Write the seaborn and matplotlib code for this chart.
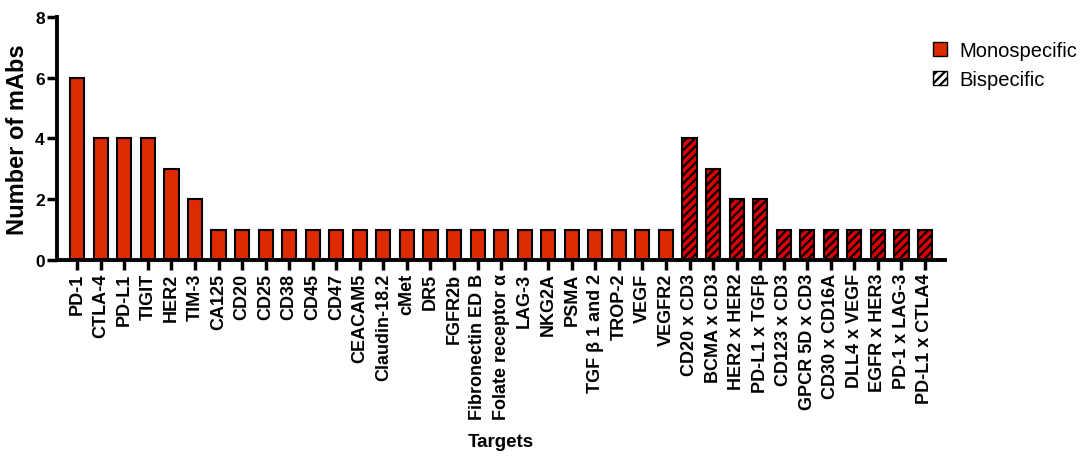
import matplotlib.pyplot as plt
import matplotlib.patches as mpatches
import seaborn as sns
import pandas as pd

mono_targets = ["PD-1", "CTLA-4", "PD-L1", "TIGIT", "HER2", "TIM-3", "CA125", "CD20",
                "CD25", "CD38", "CD45", "CD47", "CEACAM5", "Claudin-18.2", "cMet", "DR5",
                "FGFR2b", "Fibronectin ED B", "Folate receptor α", "LAG-3", "NKG2A", "PSMA",
                "TGF β 1 and 2", "TROP-2", "VEGF", "VEGFR2"]
mono_counts = [6, 4, 4, 4, 3, 2, 1, 1, 1, 1, 1, 1, 1, 1, 1, 1, 1, 1, 1, 1, 1, 1, 1, 1, 1, 1]
bi_targets = ["CD20 x CD3", "BCMA x CD3", "HER2 x HER2", "PD-L1 x TGFβ", "CD123 x CD3",
              "GPCR 5D x CD3", "CD30 x CD16A", "DLL4 x VEGF", "EGFR x HER3", "PD-1 x LAG-3",
              "PD-L1 x CTLA4"]
bi_counts = [4, 3, 2, 2, 1, 1, 1, 1, 1, 1, 1]

df = pd.DataFrame({
    "target": mono_targets + bi_targets,
    "count": mono_counts + bi_counts,
    "kind": ["Monospecific"] * len(mono_targets) + ["Bispecific"] * len(bi_targets),
})

sns.set_style("ticks")
plt.rcParams['font.family'] = ['Liberation Sans', 'DejaVu Sans']
plt.rcParams['hatch.linewidth'] = 1.6
plt.rcParams['text.color'] = 'black'
plt.rcParams['axes.labelcolor'] = 'black'
plt.rcParams['xtick.color'] = 'black'
plt.rcParams['ytick.color'] = 'black'
plt.rcParams['axes.edgecolor'] = 'black'

mono_color = "#DD2A00"
bi_color = "#D80000"

fig = plt.figure(figsize=(10.8, 4.64), dpi=100)
ax = fig.add_axes([0.053, 0.4375, 0.822, 0.524])

sns.barplot(data=df, x="target", y="count", hue="kind", dodge=False,
            palette={"Monospecific": mono_color, "Bispecific": bi_color},
            width=0.6, edgecolor="black", linewidth=1.5, saturation=1,
            legend=False, ax=ax)

# hatch the bispecific bars
kinds = df["kind"].tolist()
for bar in ax.patches:
    i = int(round(bar.get_x() + bar.get_width() / 2))
    if 0 <= i < len(kinds) and kinds[i] == "Bispecific" and bar.get_height() > 0:
        bar.set_hatch("////")

ax.set_xlim(-0.85, len(df) - 1 + 0.85)
ax.set_ylim(0, 8)
ax.set_yticks([0, 2, 4, 6, 8])
ax.set_ylabel("Number of mAbs", fontsize=17, fontweight="bold", labelpad=4)
ax.set_xlabel("Targets", fontsize=13.5, fontweight="bold", labelpad=10)
ax.tick_params(axis="x", labelrotation=90, labelsize=13, length=7, width=2.5, pad=2)
ax.tick_params(axis="y", labelsize=12.5, length=7, width=2.5, pad=2)
for lbl in ax.get_xticklabels() + ax.get_yticklabels():
    lbl.set_fontweight("bold")
sns.despine(ax=ax)
for s in ["left", "bottom"]:
    ax.spines[s].set_linewidth(2.8)

handles = [
    mpatches.Patch(facecolor=mono_color, edgecolor="black", linewidth=1, label="Monospecific"),
    mpatches.Patch(facecolor="white", edgecolor="black", linewidth=1, hatch="////", label="Bispecific"),
]
fig.legend(handles=handles, loc="upper left", bbox_to_anchor=(0.847, 0.948),
           frameon=False, fontsize=14.5, handlelength=0.7, handleheight=0.7,
           handletextpad=0.6, labelspacing=0.5)

fig.savefig("out.png", dpi=100)
